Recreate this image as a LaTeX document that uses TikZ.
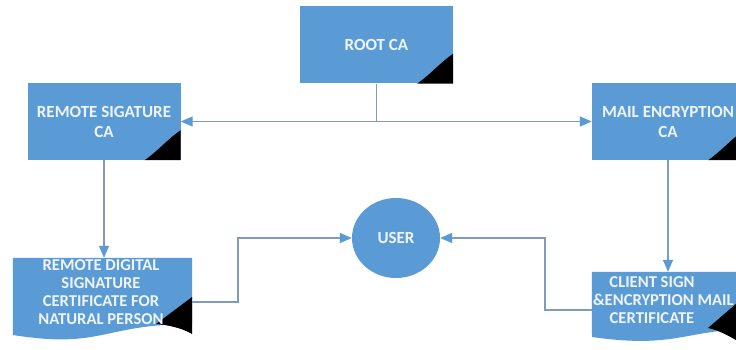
\documentclass[tikz,border=0pt]{standalone}
\usepackage{fontspec}
\setmainfont{Carlito}
\usetikzlibrary{arrows.meta,shapes.geometric}
\definecolor{boxblue}{HTML}{5B9BD5}
\definecolor{wireblue}{HTML}{7F9CBF}
\definecolor{labelwhite}{HTML}{EEF4FA}
\begin{document}
\begin{tikzpicture}[x=1pt,y=-1pt,
  cabox/.style={fill=boxblue, text=labelwhite, align=center, inner sep=0pt,
    font=\fontsize{17}{20}\selectfont\bfseries, minimum width=153pt, minimum height=77pt},
  docbody/.style={inner sep=0pt, minimum width=179pt},
  doctext/.style={text=labelwhite, align=center, inner sep=0pt,
    font=\fontsize{16.6}{17.8}\selectfont\bfseries},
  userbox/.style={ellipse, fill=boxblue, text=labelwhite, inner sep=0pt,
    font=\fontsize{17}{20}\selectfont\bfseries, minimum width=88pt, minimum height=80pt},
  wire/.style={draw=wireblue, line width=1.4pt},
  tip/.style={-{Triangle[length=12pt,width=10pt,color=boxblue]}},
  fold/.style={fill=black}
]
\fill[white] (0,0) rectangle (736,350);
\clip (0,0) rectangle (736,350);

% certificate authorities
\node[cabox] (root) at (376.5,45) {ROOT CA};
\fill[fold] (root.south east) -- ++(-36,0) .. controls ++(14,-10) and ++(-12,8) .. ([yshift=30pt]root.south east) -- cycle;

\node[cabox] (rsca) at (104,121.5) {REMOTE SIGATURE\\CA};
\fill[fold] (rsca.south east) -- ++(-36,0) .. controls ++(14,-10) and ++(-12,8) .. ([yshift=30pt]rsca.south east) -- cycle;

\node[cabox, minimum width=152pt] (mailca) at (668,121.5) {MAIL ENCRYPTION\\CA};
\fill[fold] (mailca.south east) -- ++(-36,0) .. controls ++(14,-10) and ++(-12,8) .. ([yshift=30pt]mailca.south east) -- cycle;

% end user
\node[userbox] (user) at (396,238) {USER};

% issued certificates (document shapes)
\node[docbody, minimum height=88pt] (ldoc) at (102.5,302) {};
\fill[boxblue] (ldoc.north west) -- (ldoc.north east) -- (192,324)
  .. controls (102.5,324) and (102.5,349.3) .. (13,335) -- cycle;
\fill[fold] (156,324) -- (192,297) -- (192,334)
  .. controls (182,328) and (168,325) .. cycle;
\node[doctext] (ldoctext) at (101,292)
  {REMOTE DIGITAL\\SIGNATURE\\CERTIFICATE FOR\\NATURAL PERSON};

\node[docbody, minimum height=76pt] (rdoc) at (681.5,310) {};
\fill[boxblue] (rdoc.north west) -- (rdoc.north east) -- (771,328)
  .. controls (681.5,328) and (681.5,349.5) .. (592,337) -- cycle;
\fill[fold] (708,328) -- (744,297) -- (744,345)
  .. controls (730,336) and (718,330) .. cycle;
\node[doctext] (rdoctext) at (652,300)
  {CLIENT SIGN\\\makebox[118pt][l]{\&ENCRYPTION MAIL}\\CERTIFICATE};

% connectors
\coordinate (hub) at (root.south |- rsca.east);
\draw[wire] (root.south) -- (hub);
\draw[wire, tip] (hub) -- (rsca.east);
\draw[wire, tip] (hub) -- (mailca.west);
\draw[wire, tip] (rsca.south) -- (rsca.south |- ldoc.north);
\draw[wire, tip] (mailca.south) -- (mailca.south |- rdoc.north);
\draw[wire, tip] (ldoc.east) -| (238,238) -- (user.west);
\draw[wire, tip] (rdoc.west) -| (545,238) -- (user.east);
\end{tikzpicture}
\end{document}
